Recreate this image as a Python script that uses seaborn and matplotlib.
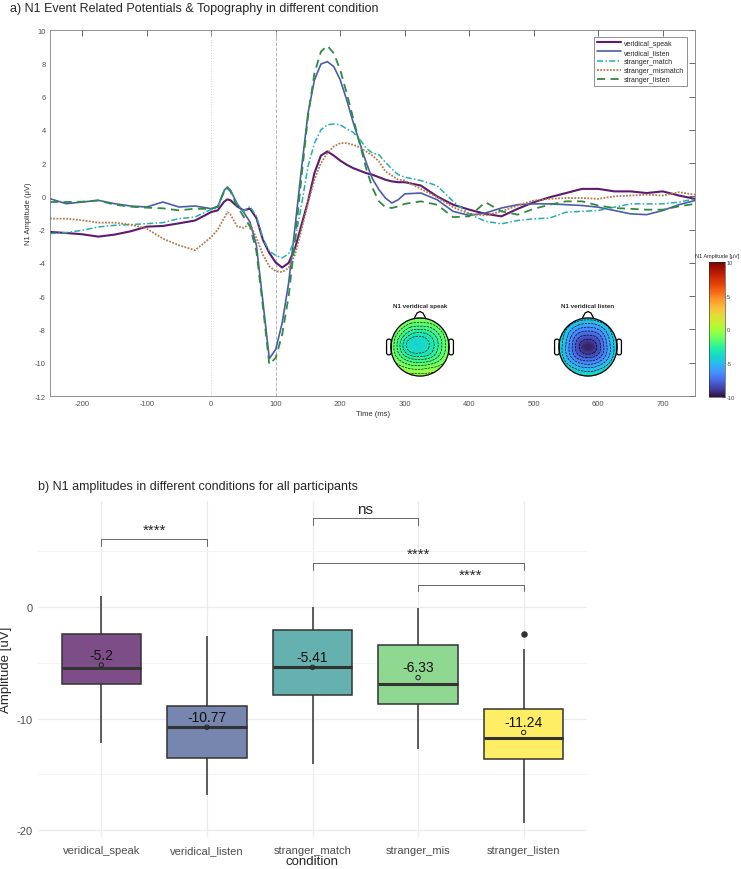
import numpy as np
import pandas as pd
import seaborn as sns
import matplotlib.pyplot as plt
from matplotlib.patches import Circle, Polygon, FancyBboxPatch
from matplotlib.tri import Triangulation, UniformTriRefiner
from matplotlib.cm import ScalarMappable
from matplotlib.colors import Normalize, to_rgb

# ---------------- panel a: grand-average ERP ----------------
time_ms = [-250, -225, -200, -175, -150, -125, -100, -75, -50, -25,
           0, 10, 20, 25, 30, 40, 50, 60, 70, 80,
           90, 100, 110, 120, 130, 140, 150, 160, 170, 180,
           190, 200, 210, 220, 230, 240, 250, 260, 270, 280,
           290, 300, 325, 350, 375, 400, 425, 450, 475, 500,
           525, 550, 575, 600, 625, 650, 675, 700, 725, 750]

veridical_speak = [-2.14, -2.20, -2.28, -2.42, -2.30, -2.10, -1.82, -1.78, -1.62, -1.45,
                   -0.94, -0.84, -0.32, -0.18, -0.24, -0.60, -0.84, -0.74, -1.30, -2.60,
                   -3.40, -3.98, -4.28, -4.00, -3.10, -1.70, -0.30, 1.40, 2.45, 2.70,
                   2.45, 2.15, 1.90, 1.70, 1.55, 1.40, 1.30, 1.15, 1.00, 0.90,
                   0.85, 0.85, 0.65, 0.00, -0.50, -0.80, -1.05, -1.20, -0.75, -0.35,
                   -0.05, 0.20, 0.45, 0.45, 0.30, 0.30, 0.20, 0.30, 0.05, -0.15]
veridical_listen = [-0.14, -0.44, -0.34, -0.24, -0.44, -0.58, -0.64, -0.34, -0.64, -0.58,
                    -0.74, -0.64, 0.36, 0.56, 0.36, -0.44, -0.94, -1.54, -2.94, -6.30,
                    -9.75, -9.20, -7.60, -5.20, -1.80, 1.70, 5.00, 7.00, 7.95, 8.10,
                    7.80, 7.00, 5.80, 4.45, 3.25, 2.05, 1.05, 0.40, -0.10, -0.40,
                    -0.20, 0.15, 0.20, -0.20, -0.90, -1.15, -1.00, -0.70, -0.50, -0.45,
                    -0.45, -0.50, -0.55, -0.65, -0.85, -1.05, -1.10, -0.85, -0.50, -0.25]
stranger_match = [-2.24, -2.18, -2.04, -1.84, -1.74, -1.70, -1.64, -1.58, -1.34, -1.24,
                  -0.78, -0.70, 0.30, 0.50, 0.35, -0.50, -0.90, -0.60, -1.20, -2.50,
                  -3.30, -3.55, -3.70, -3.45, -2.60, -0.50, 1.80, 3.20, 4.00, 4.30,
                  4.35, 4.30, 4.05, 3.85, 3.45, 2.90, 2.60, 2.50, 2.05, 1.65,
                  1.30, 1.15, 0.95, 0.65, -0.30, -1.05, -1.50, -1.65, -1.45, -1.35,
                  -1.30, -0.95, -0.90, -0.85, -0.65, -0.45, -0.45, -0.45, -0.35, -0.15]
stranger_mismatch = [-1.34, -1.34, -1.44, -1.58, -1.58, -1.70, -1.94, -2.54, -2.94, -3.24,
                     -2.44, -2.00, -1.30, -0.95, -1.10, -1.80, -1.90, -1.65, -2.50, -3.50,
                     -4.20, -4.50, -4.55, -4.30, -3.50, -2.00, -0.40, 1.00, 2.00, 2.60,
                     3.00, 3.20, 3.20, 3.10, 2.95, 2.70, 2.45, 2.10, 1.50, 1.25,
                     1.00, 0.95, 0.45, -0.05, -0.65, -1.05, -1.15, -0.90, -0.55, -0.25,
                     -0.15, -0.10, -0.10, -0.15, 0.00, 0.05, 0.10, 0.05, 0.25, 0.10]
stranger_listen = [-0.34, -0.34, -0.32, -0.24, -0.50, -0.62, -0.68, -0.72, -0.84, -0.74,
                   -0.76, -0.60, 0.30, 0.50, 0.30, -0.60, -1.20, -1.80, -3.30, -6.60,
                   -10.10, -9.70, -8.30, -6.00, -2.60, 1.20, 4.80, 7.40, 8.70, 9.05,
                   8.60, 7.60, 6.20, 4.70, 3.20, 1.70, 0.50, -0.30, -0.65, -0.70,
                   -0.60, -0.45, -0.30, -0.50, -1.25, -1.20, -0.35, -0.90, -1.10, -0.75,
                   -0.50, -0.30, -0.30, -0.55, -0.70, -0.75, -0.80, -0.80, -0.60, -0.45]

erp_names = ['veridical_speak', 'veridical_listen', 'stranger_match',
             'stranger_mismatch', 'stranger_listen']
erp_series = [veridical_speak, veridical_listen, stranger_match,
              stranger_mismatch, stranger_listen]
erp_colors = ['#5E1A6E', '#4A5DA8', '#22B0A8', '#B07A4E', '#2E8B40']
erp_styles = ['-', '-', (0, (4, 1.5, 1, 1.5)), (0, (1, 0.8)), (0, (4.5, 3))]
erp_widths = [1.5, 1.2, 1.1, 1.3, 1.3]

# topography maps (7x7 grid over the head, top row = frontal)
topo_speak = [[-0.4, -0.5, -0.7, -0.8, -0.7, -0.5, -0.4],
              [-0.6, -1.2, -2.0, -2.2, -2.0, -1.3, -0.6],
              [-0.8, -2.2, -3.4, -3.7, -3.2, -2.1, -0.8],
              [-0.9, -2.6, -4.0, -4.1, -3.5, -2.3, -0.9],
              [-0.8, -1.9, -2.8, -3.0, -2.7, -1.8, -0.8],
              [-0.4, -0.8, -1.2, -1.3, -1.1, -0.8, -0.4],
              [0.2, 0.0, -0.1, -0.1, -0.1, 0.0, 0.2]]
topo_listen = [[-3.0, -3.4, -4.0, -4.2, -4.0, -3.4, -3.0],
               [-3.4, -4.8, -6.0, -6.4, -6.0, -4.8, -3.4],
               [-3.8, -5.8, -7.8, -8.4, -7.8, -5.8, -3.8],
               [-4.0, -6.2, -8.6, -9.6, -8.6, -6.2, -4.0],
               [-3.8, -5.8, -7.6, -8.2, -7.6, -5.8, -3.8],
               [-3.4, -4.4, -5.4, -5.8, -5.4, -4.4, -3.4],
               [-3.0, -3.3, -3.6, -3.8, -3.6, -3.3, -3.0]]
topo_titles = ['N1 veridical speak', 'N1 veridical listen']

# ---------------- panel b: box statistics ----------------
conditions = ['veridical_speak', 'veridical_listen', 'stranger_match',
              'stranger_mis', 'stranger_listen']
whisker_low = [-12.16, -16.8, -14.05, -12.76, -19.34]
q1 = [-6.87, -13.57, -7.86, -8.73, -13.66]
median = [-5.44, -10.76, -5.35, -6.87, -11.78]
q3 = [-2.39, -8.88, -2.09, -3.43, -9.18]
whisker_high = [0.99, -2.6, 0.0, -0.06, -3.8]
means = [-5.2, -10.77, -5.41, -6.33, -11.24]
outlier_cond = ['stranger_listen']
outlier_val = [-2.39]
box_fill = ['#440154', '#3B528B', '#21908C', '#5DC863', '#FDE725']

bracket_left = ['veridical_speak', 'stranger_match', 'stranger_match', 'stranger_mis']
bracket_right = ['veridical_listen', 'stranger_mis', 'stranger_listen', 'stranger_listen']
bracket_label = ['****', 'ns', '****', '****']
bracket_y = [6.07, 7.95, 3.9, 2.0]

sns.set_theme(style='white')
plt.rcParams['font.family'] = ['Liberation Sans', 'DejaVu Sans']
plt.rcParams['axes.unicode_minus'] = False

W, H = 741, 870
fig = plt.figure(figsize=(W / 100, H / 100), dpi=100)


def box(l, t, r, b):
    return [l / W, 1 - b / H, (r - l) / W, (b - t) / H]


# ---- panel a ----
ax = fig.add_axes(box(50, 31, 695, 397))
ax.axvline(0, color='#cfcfcf', ls=':', lw=0.7)
ax.axvline(100, color='#b5b5b5', ls='--', lw=0.7)
for name, vals, color, ls, lw in zip(erp_names, erp_series, erp_colors, erp_styles, erp_widths):
    sns.lineplot(x=time_ms, y=vals, ax=ax, color=color, linestyle=ls, lw=lw, label=name)

ax.set_xlim(-250, 750)
ax.set_ylim(-12, 10)
ax.set_xticks(range(-200, 701, 100))
ax.set_yticks(range(-12, 11, 2))
ax.tick_params(direction='in', top=True, right=True, length=4, width=0.6,
               labelsize=5.5, colors='#505050', pad=3)
for s in ax.spines.values():
    s.set_color('#808080')
    s.set_linewidth(0.6)
ax.set_xlabel('Time (ms)', fontsize=5.5, color='#303030', labelpad=2)
ax.set_ylabel('N1 Amplitude (μV)', fontsize=5.5, color='#303030', labelpad=2)

leg = ax.legend(loc='upper right', bbox_to_anchor=((687 - 50) / 645, (397 - 38) / 366),
                borderaxespad=0, fontsize=5, handlelength=3.4, frameon=True, fancybox=False,
                edgecolor='#404040', borderpad=0.4, labelspacing=0.3, handletextpad=0.5)
leg.get_frame().set_linewidth(0.5)

# topographies
norm = Normalize(-10, 10)
grid_axis = np.linspace(-1, 1, 7)
gx, gy = np.meshgrid(grid_axis, grid_axis[::-1])
refiner = UniformTriRefiner(Triangulation(gx.ravel(), gy.ravel()))

for cx, title, vals in zip([420, 588], topo_titles, [topo_speak, topo_listen]):
    tax = fig.add_axes(box(cx - 50, 298, cx + 50, 398))
    tax.set_xlim(-1.72, 1.72)
    tax.set_ylim(-1.72, 1.72)
    tax.axis('off')
    z = np.asarray(vals, dtype=float)
    tri_f, z_f = refiner.refine_field(z.ravel(), subdiv=3)
    head = Circle((0, 0), 1, transform=tax.transData)
    cf = tax.tricontourf(tri_f, z_f, levels=np.linspace(-10, 10, 101), cmap='turbo', norm=norm)
    cf.set_clip_path(head)
    line_levels = np.linspace(z.min(), z.max(), 9)[1:-1]
    cl = tax.tricontour(tri_f, z_f, levels=line_levels, colors='black', linewidths=0.45)
    cl.set_clip_path(head)
    tax.add_patch(Circle((0, 0), 1, fill=False, lw=0.9, ec='black'))
    tax.add_patch(Polygon([(-0.2, 0.98), (-0.1, 1.17), (0, 1.22), (0.1, 1.17), (0.2, 0.98)],
                          closed=False, fill=False, lw=0.9, ec='black'))
    for ex in (0.99, -1.15):
        tax.add_patch(FancyBboxPatch((ex, -0.27), 0.16, 0.54,
                                     boxstyle='round,pad=0,rounding_size=0.07',
                                     fill=False, lw=0.9, ec='black'))
    tax.text(0, 1.42, title, ha='center', va='center', fontsize=4.5, fontweight='bold')

cax = fig.add_axes(box(709, 263, 725, 398))
cb = fig.colorbar(ScalarMappable(norm=norm, cmap='turbo'), cax=cax, ticks=[-10, -5, 0, 5, 10])
cb.outline.set_linewidth(0.4)
cax.tick_params(direction='in', length=2, width=0.4, labelsize=4, pad=1.5, colors='#404040')
fig.text(717 / W, 1 - 257 / H, 'N1 Amplitude [μV]', ha='center', va='center', fontsize=4)

fig.text(10 / W, 1 - 9 / H, 'a) N1 Event Related Potentials & Topography in different condition',
         fontsize=9, va='center')

# ---- panel b ----
ax2 = fig.add_axes(box(38, 502, 587, 838))
df = pd.DataFrame({
    'condition': np.repeat(conditions, 5),
    'amplitude': np.column_stack([whisker_low, q1, median, q3, whisker_high]).ravel(),
})
palette = {c: tuple(np.array(to_rgb(f)) * 0.7 + 0.3) for c, f in zip(conditions, box_fill)}
ax2.set_axisbelow(True)
sns.boxplot(data=df, x='condition', y='amplitude', hue='condition', order=conditions,
            palette=palette, legend=False, saturation=1, width=0.75, linewidth=1.1,
            linecolor='#333333', showcaps=False, fliersize=0, whis=1.5,
            medianprops=dict(linewidth=2.2, color='#333333'), ax=ax2)

pos = [conditions.index(c) for c in conditions]
sns.scatterplot(x=[conditions.index(c) for c in outlier_cond], y=outlier_val, ax=ax2,
                color='#333333', s=22, linewidth=0, zorder=5)
sns.scatterplot(x=pos, y=means, ax=ax2, marker='o', s=10, facecolor='none',
                edgecolor='#222222', linewidth=0.7, zorder=6)
for p, m in zip(pos, means):
    ax2.annotate(f'{m:g}', (p, m), xytext=(0, 7.5), textcoords='offset points',
                 ha='center', va='center', fontsize=10, color='#111111')

for l, r, lab, y in zip(bracket_left, bracket_right, bracket_label, bracket_y):
    x0, x1 = conditions.index(l), conditions.index(r)
    ax2.plot([x0, x0, x1, x1], [y - 0.6, y, y, y - 0.6], color='#666666', lw=0.7)
    ax2.text((x0 + x1) / 2, y + 0.5, lab, ha='center', va='baseline', fontsize=11)

ax2.set_xlim(-0.6, 4.6)
ax2.set_ylim(-20.6, 9.48)
ax2.set_yticks([-20, -10, 0])
ax2.set_yticks([-15, -5, 5], minor=True)
ax2.grid(which='major', color='#EBEBEB', lw=0.9)
ax2.grid(which='minor', axis='y', color='#F0F0F0', lw=0.5)
for s in ax2.spines.values():
    s.set_visible(False)
ax2.tick_params(axis='both', which='both', length=0, labelsize=8, labelcolor='#4D4D4D')
ax2.tick_params(axis='x', pad=6)
ax2.tick_params(axis='y', pad=4)
ax2.set_xlabel('condition', fontsize=9.5, labelpad=0)
ax2.set_ylabel('Amplitude [uV]', fontsize=9.5, labelpad=3)

fig.text(38 / W, 1 - 487 / H, 'b) N1 amplitudes in different conditions for all participants',
         fontsize=9, va='center')

fig.savefig('out.png', dpi=100)
